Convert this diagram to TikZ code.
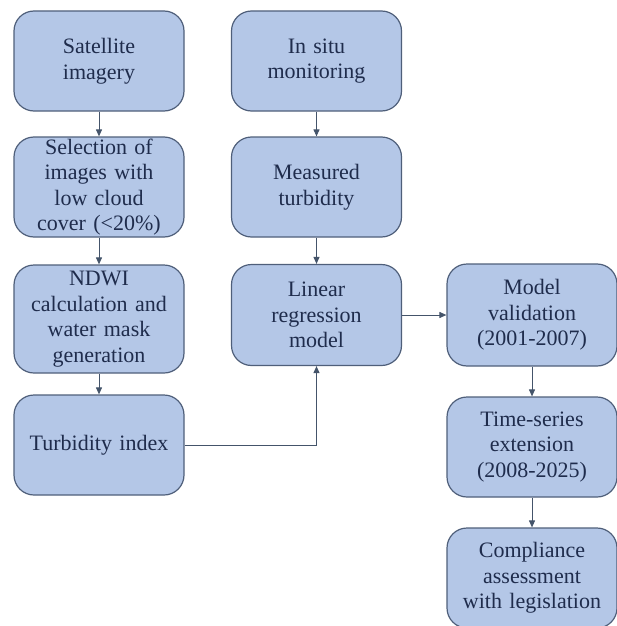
\documentclass[tikz,border=0pt]{standalone}
\usepackage{fontspec}
\setmainfont{Liberation Serif}
\usetikzlibrary{arrows.meta}
\definecolor{boxfill}{HTML}{B4C7E7}
\definecolor{boxline}{HTML}{4F5F7A}
\definecolor{txt}{HTML}{1F2C4C}
\definecolor{arr}{HTML}{44546A}
\tikzset{
  box/.style={draw=boxline, line width=1.2pt, fill=boxfill, rounded corners=20pt,
    minimum width=170pt, text width=166pt, align=center, text=txt,
    font=\fontsize{22}{25.5}\selectfont, inner sep=0pt},
  link/.style={draw=arr, line width=1pt, -{Triangle[length=7pt,width=6pt]}}
}
\begin{document}
\begin{tikzpicture}[x=1pt,y=-1pt]
\useasboundingbox (0,0) rectangle (617,626);
\clip (0,0) rectangle (617,626);
\node[box, minimum height=100pt] (sat) at (99,61) {Satellite\\imagery};
\node[box, minimum height=100pt] (sel) at (99,187) {Selection of\\images with\\low cloud\\cover (<20\%)};
\node[box, minimum height=108pt] (ndwi) at (99,319) {NDWI\\calculation and\\water mask\\generation};
\node[box, minimum height=100pt] (tidx) at (99,445) {Turbidity index};
\node[box, minimum height=100pt] (insitu) at (316.5,61) {In situ\\monitoring};
\node[box, minimum height=100pt] (meas) at (316.5,187) {Measured\\turbidity};
\node[box, minimum height=101pt] (lin) at (316.5,315) {Linear\\regression\\model};
\node[box, minimum height=102pt] (val) at (532,315) {Model\\validation\\(2001-2007)};
\node[box, minimum height=100pt] (ts) at (532,447) {Time-series\\extension\\(2008-2025)};
\node[box, minimum height=100pt] (comp) at (532,578) {Compliance\\assessment\\with legislation};
\draw[link] (sat) -- (sel);
\draw[link] (sel) -- (ndwi);
\draw[link] (ndwi) -- (tidx);
\draw[link] (insitu) -- (meas);
\draw[link] (meas) -- (lin);
\draw[link] (tidx.east) -| (lin.south);
\draw[link] (lin) -- (val);
\draw[link] (val) -- (ts);
\draw[link] (ts) -- (comp);
\end{tikzpicture}
\end{document}
